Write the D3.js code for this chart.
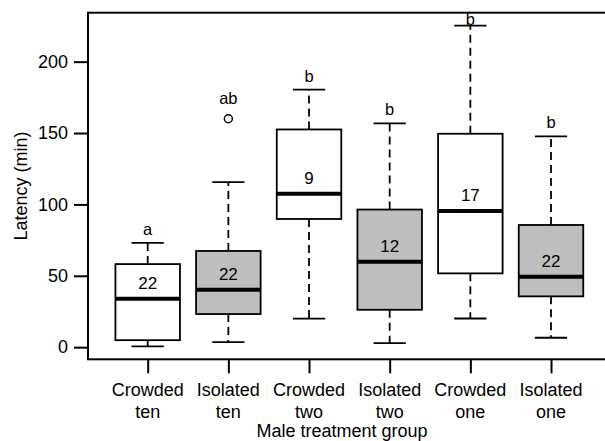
<!DOCTYPE html>
<html>
<head>
<meta charset="utf-8">
<script src="https://cdn.jsdelivr.net/npm/d3@7"></script>
<style>
  body { margin: 0; background: #fff; }
  text { font-family: "Liberation Sans", Arial, sans-serif; fill: #000; }
</style>
</head>
<body>
<div class="canvas"></div>
<script>
// Data
const housing = ['Crowded', 'Isolated', 'Crowded', 'Isolated', 'Crowded', 'Isolated'];
const density = ['ten', 'ten', 'two', 'two', 'one', 'one'];
const whiskerLow = [0.5, 3.5, 20, 2.8, 20.1, 6.6];
const q1 = [4.9, 23.2, 89.8, 26.2, 51.7, 35.6];
const median = [34, 40.3, 107.4, 59.9, 95.4, 49.4];
const q3 = [58.2, 67.4, 152.5, 96.4, 149.5, 85.6];
const whiskerHigh = [73, 115.6, 180.4, 156.8, 225.3, 147.6];
const outliers = [[], [160], [], [], [], []];
const sampleSize = [22, 22, 9, 12, 17, 22];
const letters = ['a', 'ab', 'b', 'b', 'b', 'b'];
const yTicks = [0, 50, 100, 150, 200];

// Graph set up
const svgWidth = 605;
const svgHeight = 441;
const plot = {left: 88, top: 12.7, right: 610.7, bottom: 359.3};

const svg = d3.select('.canvas')
    .append('svg')
    .attr('width', svgWidth)
    .attr('height', svgHeight);

// Scales (R style: 4% padding on the data range)
const n = housing.length;
const xPad = n * 0.04;
const x = d3.scaleLinear()
    .domain([0.5 - xPad, n + 0.5 + xPad])
    .range([plot.left, plot.right]);

const allValues = whiskerLow.concat(whiskerHigh, ...outliers);
const [yMin, yMax] = d3.extent(allValues);
const yPad = (yMax - yMin) * 0.04;
const y = d3.scaleLinear()
    .domain([yMin - yPad, yMax + yPad])
    .range([plot.bottom, plot.top]);

const boxHalf = 0.4;
const stapleHalf = 0.2;
const lw = 1.8;

// Boxes
const idx = d3.range(n);
const groups = svg.selectAll('g.box')
    .data(idx)
    .enter()
    .append('g')
    .attr('class', 'box');

// whiskers
groups.append('line')
    .attr('x1', i => x(i + 1)).attr('x2', i => x(i + 1))
    .attr('y1', i => y(q3[i])).attr('y2', i => y(whiskerHigh[i]))
    .attr('stroke', '#000').attr('stroke-width', lw)
    .attr('stroke-dasharray', '8,5');

groups.append('line')
    .attr('x1', i => x(i + 1)).attr('x2', i => x(i + 1))
    .attr('y1', i => y(q1[i])).attr('y2', i => y(whiskerLow[i]))
    .attr('stroke', '#000').attr('stroke-width', lw)
    .attr('stroke-dasharray', '8,5');

// staples
[whiskerHigh, whiskerLow].forEach(arr => {
    groups.append('line')
        .attr('x1', i => x(i + 1 - stapleHalf)).attr('x2', i => x(i + 1 + stapleHalf))
        .attr('y1', i => y(arr[i])).attr('y2', i => y(arr[i]))
        .attr('stroke', '#000').attr('stroke-width', lw);
});

// box
groups.append('rect')
    .attr('x', i => x(i + 1 - boxHalf))
    .attr('width', i => x(i + 1 + boxHalf) - x(i + 1 - boxHalf))
    .attr('y', i => y(q3[i]))
    .attr('height', i => y(q1[i]) - y(q3[i]))
    .attr('fill', i => housing[i] === 'Isolated' ? '#bebebe' : '#fff')
    .attr('stroke', '#000').attr('stroke-width', lw);

// median
groups.append('line')
    .attr('x1', i => x(i + 1 - boxHalf)).attr('x2', i => x(i + 1 + boxHalf))
    .attr('y1', i => y(median[i])).attr('y2', i => y(median[i]))
    .attr('stroke', '#000').attr('stroke-width', 4);

// outliers
groups.selectAll('circle')
    .data(i => outliers[i].map(v => ({i, v})))
    .enter()
    .append('circle')
    .attr('cx', d => x(d.i + 1))
    .attr('cy', d => y(d.v))
    .attr('r', 4)
    .attr('fill', 'none')
    .attr('stroke', '#000')
    .attr('stroke-width', 1.5);

// sample sizes
groups.append('text')
    .attr('x', i => x(i + 1))
    .attr('y', i => y(median[i]) - 10)
    .attr('text-anchor', 'middle')
    .style('font-size', '17px')
    .text(i => sampleSize[i]);

// significance letters
groups.append('text')
    .attr('x', i => x(i + 1))
    .attr('y', i => {
        const top = d3.max([whiskerHigh[i], ...outliers[i]]);
        const gap = outliers[i].length ? 15 : 8;
        return Math.max(y(top) - gap, plot.top + 12.5);
    })
    .attr('text-anchor', 'middle')
    .style('font-size', '16.5px')
    .text(i => letters[i]);

// Frame
svg.append('rect')
    .attr('x', plot.left)
    .attr('y', plot.top)
    .attr('width', plot.right - plot.left)
    .attr('height', plot.bottom - plot.top)
    .attr('fill', 'none')
    .attr('stroke', '#000')
    .attr('stroke-width', 2);

// Axes
const yAxis = d3.axisLeft(y)
    .tickValues(yTicks)
    .tickSize(14)
    .tickPadding(6);

const yAxisGroup = svg.append('g')
    .attr('transform', `translate(${plot.left},0)`)
    .call(yAxis);
yAxisGroup.select('.domain').remove();
yAxisGroup.selectAll('line').attr('stroke-width', 2);
yAxisGroup.selectAll('text')
    .style('font-size', '18px')
    .style('font-family', '"Liberation Sans", Arial, sans-serif')
    .attr('fill', '#000');

const xAxis = d3.axisBottom(x)
    .tickValues(idx.map(i => i + 1))
    .tickSize(14)
    .tickFormat('');

const xAxisGroup = svg.append('g')
    .attr('transform', `translate(0,${plot.bottom})`)
    .call(xAxis);
xAxisGroup.select('.domain').remove();
xAxisGroup.selectAll('line').attr('stroke-width', 2);

const xLabels = svg.append('g')
    .selectAll('text')
    .data(idx)
    .enter()
    .append('text')
    .attr('text-anchor', 'middle')
    .style('font-size', '18px');

xLabels.append('tspan')
    .attr('x', i => x(i + 1))
    .attr('y', 395.7)
    .text(i => housing[i]);

xLabels.append('tspan')
    .attr('x', i => x(i + 1))
    .attr('y', 418.3)
    .text(i => density[i]);

// Axis titles
svg.append('text')
    .attr('x', 342)
    .attr('y', 437)
    .attr('text-anchor', 'middle')
    .style('font-size', '18px')
    .text('Male treatment group');

svg.append('text')
    .attr('transform', `translate(27,${(plot.top + plot.bottom) / 2}) rotate(-90)`)
    .attr('text-anchor', 'middle')
    .style('font-size', '18px')
    .text('Latency (min)');
</script>
</body>
</html>
